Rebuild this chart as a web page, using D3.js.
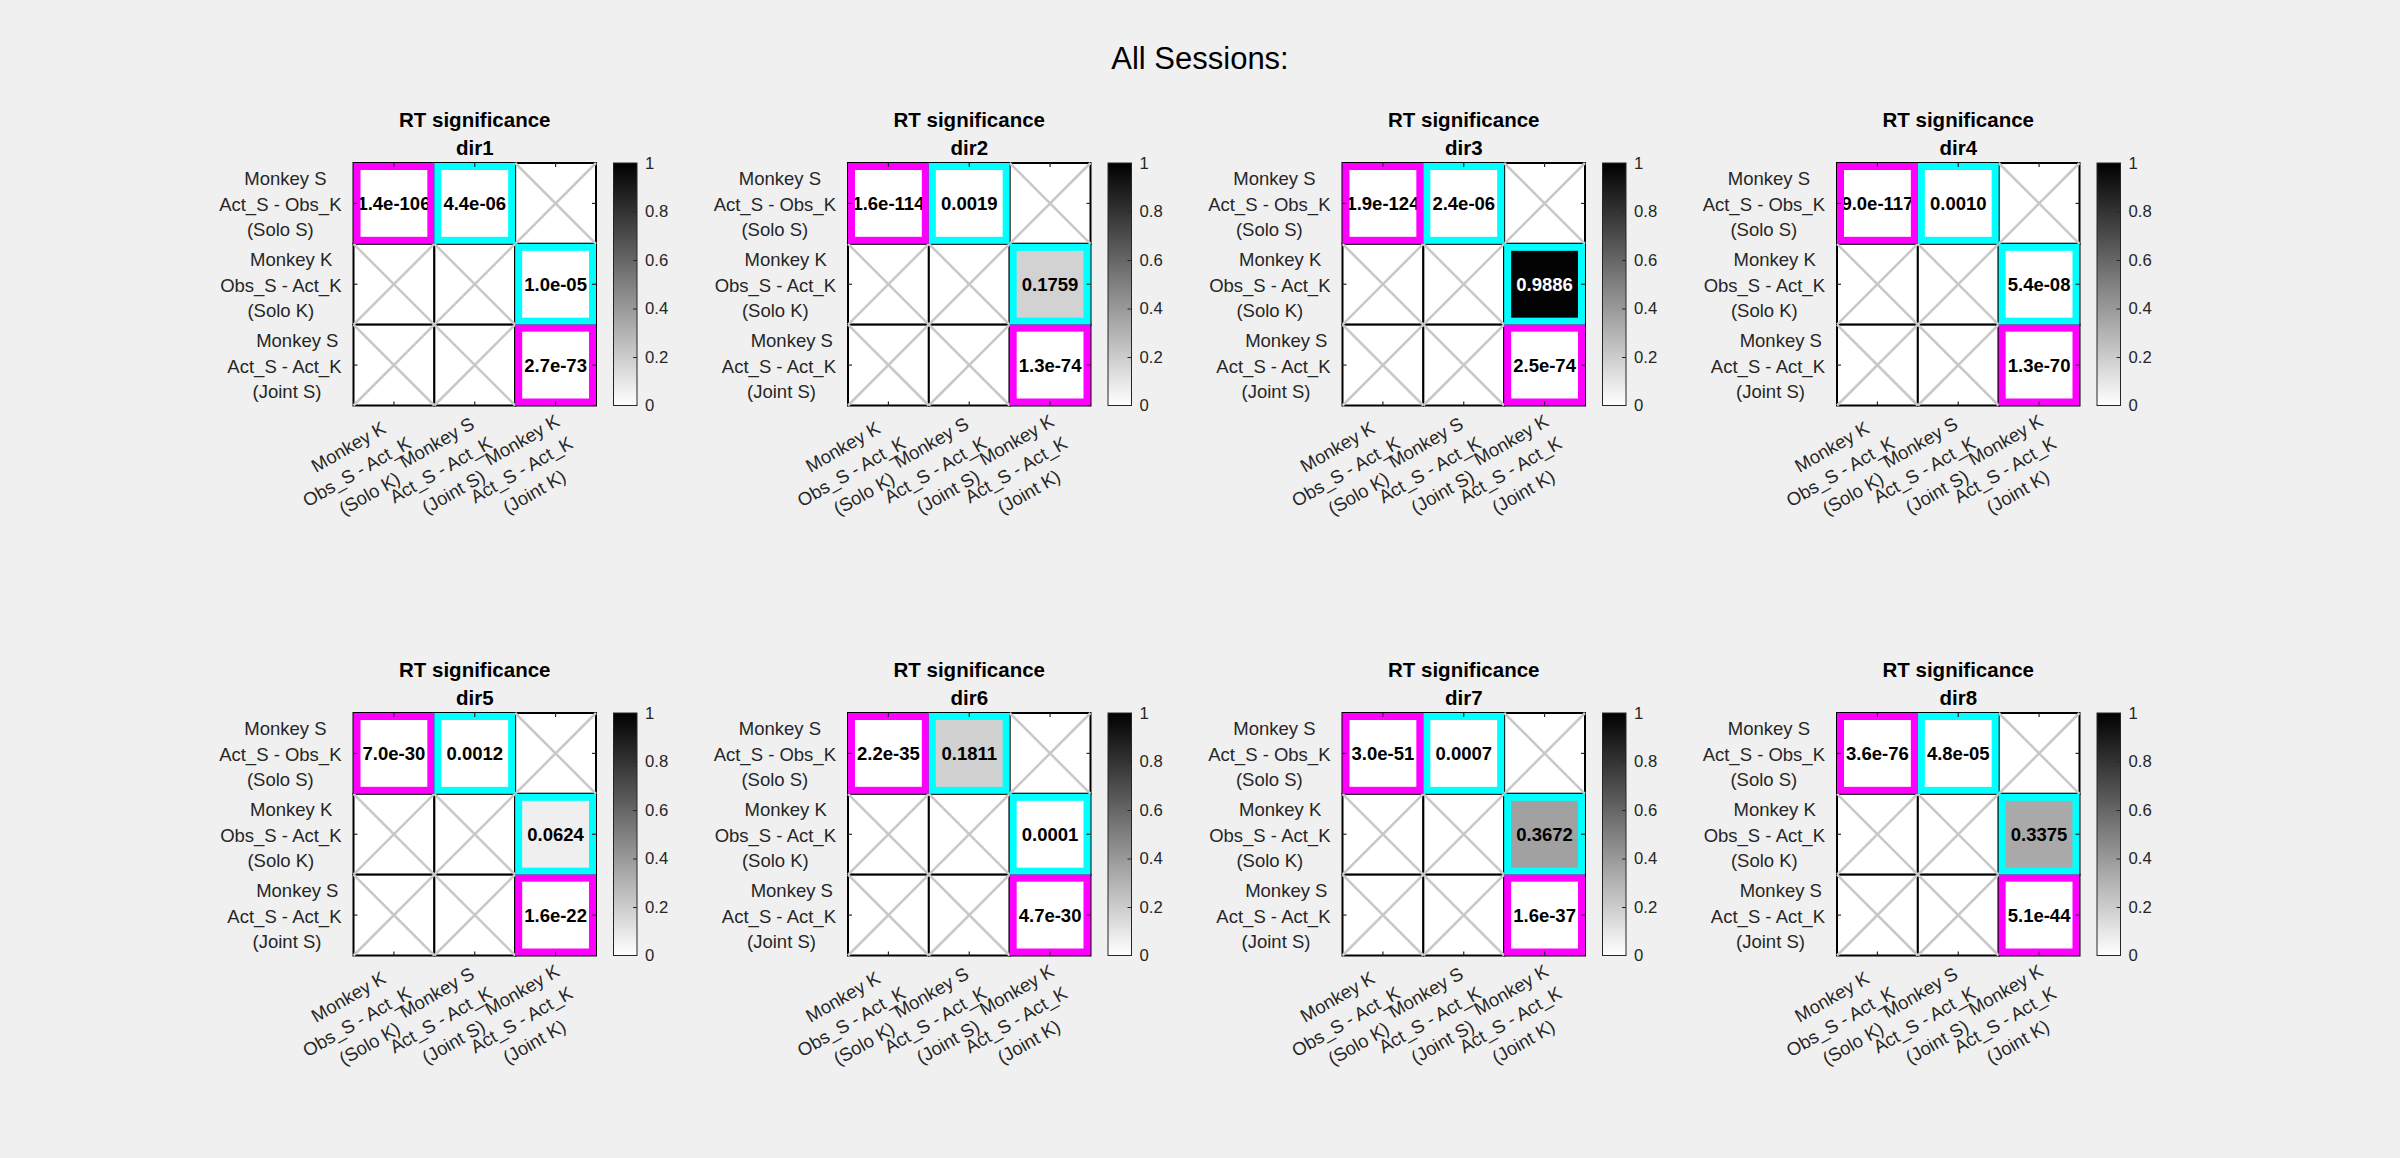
<!DOCTYPE html>
<html>
<head>
<meta charset="utf-8">
<script src="https://cdn.jsdelivr.net/npm/d3@7"></script>
<style>
  html, body { margin: 0; padding: 0; background: #f0f0f0; }
  svg text { font-family: "Liberation Sans", Arial, Helvetica, sans-serif; white-space: pre; }
</style>
</head>
<body>
<svg id="chart" width="2400" height="1158"></svg>
<script>
// ---------------- data ----------------
const figureTitle = "All Sessions:";
const panelTitle = "RT significance";
const directions = ["dir1", "dir2", "dir3", "dir4", "dir5", "dir6", "dir7", "dir8"];

// y tick labels (rows), each a list of lines
const rowLabels = [
  ["  Monkey S", "Act_S - Obs_K", "(Solo S)"],
  ["    Monkey K", "Obs_S - Act_K", "(Solo K)"],
  ["     Monkey S", "Act_S - Act_K", " (Joint S)"]
];
// x tick labels (columns)
const colLabels = [
  ["  Monkey K", "Obs_S - Act_K", "(Solo K)"],
  ["    Monkey S", "Act_S - Act_K", "(Joint S)"],
  ["      Monkey K", "Act_S - Act_K", "(Joint K)"]
];

// p-values per direction
// row 1 / col 1 : Solo S vs Solo K  (magenta)
const pSoloS_SoloK = [1.4e-106, 1.6e-114, 1.9e-124, 9.0e-117, 7.0e-30, 2.2e-35, 3.0e-51, 3.6e-76];
// row 1 / col 2 : Solo S vs Joint S (cyan)
const pSoloS_JointS = [4.4e-06, 0.0019, 2.4e-06, 0.0010, 0.0012, 0.1811, 0.0007, 4.8e-05];
// row 2 / col 3 : Solo K vs Joint K (cyan)
const pSoloK_JointK = [1.0e-05, 0.1759, 0.9886, 5.4e-08, 0.0624, 0.0001, 0.3672, 0.3375];
// row 3 / col 3 : Joint S vs Joint K (magenta)
const pJointS_JointK = [2.7e-73, 1.3e-74, 2.5e-74, 1.3e-70, 1.6e-22, 4.7e-30, 1.6e-37, 5.1e-44];

const colorbarTicks = [0, 0.2, 0.4, 0.6, 0.8, 1];

// ---------------- layout / style ----------------
const cellSlots = [
  { row: 0, col: 0, series: pSoloS_SoloK, edge: "#ff00ff" },
  { row: 0, col: 1, series: pSoloS_JointS, edge: "#00ffff" },
  { row: 1, col: 2, series: pSoloK_JointK, edge: "#00ffff" },
  { row: 2, col: 2, series: pJointS_JointK, edge: "#ff00ff" }
];

const svg = d3.select("#chart");
svg.append("rect").attr("width", 2400).attr("height", 1158).attr("fill", "#f0f0f0");

svg.append("text")
  .attr("x", 1200).attr("y", 69)
  .attr("text-anchor", "middle")
  .attr("font-size", 31)
  .attr("fill", "#000")
  .text(figureTitle);

const axSize = 242.5;
const leftStart = 353.5, colStep = 494.5;
const topStart = 163, rowStep = 550;
const axisColor = "#262626";

const grayScale = d3.scaleLinear().domain([0, 1]).range(["#ffffff", "#000000"]);

// gradient for colorbars
const defs = svg.append("defs");
const grad = defs.append("linearGradient").attr("id", "cbGrad")
  .attr("x1", 0).attr("y1", 1).attr("x2", 0).attr("y2", 0);
d3.range(0, 1.0001, 0.1).forEach(t => {
  grad.append("stop").attr("offset", t).attr("stop-color", grayScale(t));
});

function fmtP(v) {
  if (v < 0.0001) {
    const s = v.toExponential(1); // e.g. 4.4e-6
    return s.replace(/e([+-])(\d)$/, "e$10$2");
  }
  return v.toFixed(4);
}

directions.forEach((dirName, k) => {
  const pc = k % 4, pr = Math.floor(k / 4);
  const left = leftStart + pc * colStep;
  const top = topStart + pr * rowStep;

  const band = d3.scaleBand().domain([0, 1, 2]).range([0, axSize]);
  const bw = band.bandwidth();

  const g = svg.append("g").attr("transform", `translate(${left},${top})`);

  // cells
  const cells = [];
  for (let r = 0; r < 3; r++) for (let c = 0; c < 3; c++) {
    const slot = cellSlots.find(s => s.row === r && s.col === c);
    cells.push({ r, c, slot, v: slot ? slot.series[k] : null });
  }

  g.selectAll("rect.cell").data(cells).join("rect")
    .attr("class", "cell")
    .attr("x", d => band(d.c)).attr("y", d => band(d.r))
    .attr("width", bw).attr("height", bw)
    .attr("fill", d => d.v === null ? "#ffffff" : grayScale(d.v))
    .attr("stroke", "#000").attr("stroke-width", 2);

  // empty cell crosses
  const empty = cells.filter(d => d.v === null);
  g.selectAll("line.x1").data(empty).join("line")
    .attr("x1", d => band(d.c)).attr("y1", d => band(d.r))
    .attr("x2", d => band(d.c) + bw).attr("y2", d => band(d.r) + bw)
    .attr("stroke", "#c8c8c8").attr("stroke-width", 2.5);
  g.selectAll("line.x2").data(empty).join("line")
    .attr("x1", d => band(d.c) + bw).attr("y1", d => band(d.r))
    .attr("x2", d => band(d.c)).attr("y2", d => band(d.r) + bw)
    .attr("stroke", "#c8c8c8").attr("stroke-width", 2.5);

  // value text
  const filled = cells.filter(d => d.v !== null);
  g.selectAll("text.val").data(filled).join("text")
    .attr("class", "val")
    .attr("x", d => band(d.c) + bw / 2).attr("y", d => band(d.r) + bw / 2)
    .attr("text-anchor", "middle").attr("dominant-baseline", "central")
    .attr("font-size", 18.5).attr("font-weight", "bold")
    .attr("fill", d => d.v > 0.5 ? "#fff" : "#000")
    .text(d => fmtP(d.v));

  // highlight borders
  const inset = 3.5;
  g.selectAll("rect.hl").data(filled).join("rect")
    .attr("class", "hl")
    .attr("x", d => band(d.c) + inset).attr("y", d => band(d.r) + inset)
    .attr("width", bw - 2 * inset).attr("height", bw - 2 * inset)
    .attr("fill", "none").attr("stroke", d => d.slot.edge).attr("stroke-width", 7);

  // tick marks (inside)
  const tickAxes = [
    [d3.axisBottom(band), `translate(0,${axSize})`],
    [d3.axisTop(band), `translate(0,0)`],
    [d3.axisLeft(band), `translate(0,0)`],
    [d3.axisRight(band), `translate(${axSize},0)`]
  ];
  tickAxes.forEach(([ax, tr]) => {
    const a = g.append("g").attr("transform", tr)
      .call(ax.tickSizeInner(-4).tickSizeOuter(0).tickFormat(""));
    a.select(".domain").remove();
    a.selectAll("line").attr("stroke", axisColor).attr("stroke-width", 1.2);
  });

  // y tick labels
  rowLabels.forEach((lines, r) => {
    const lg = g.append("g");
    const ts = lg.selectAll("text").data(lines).join("text")
      .attr("text-anchor", "middle")
      .attr("font-size", 18.5).attr("fill", axisColor)
      .attr("y", (d, i) => band(r) + bw / 2 + (i - 1) * 25.5 + 7.5)
      .text(d => d);
    const maxW = d3.max(ts.nodes(), n => n.getComputedTextLength());
    ts.attr("x", -12 - maxW / 2);
  });

  // x tick labels (rotated 30 deg)
  colLabels.forEach((lines, c) => {
    const lg = g.append("g")
      .attr("transform", `translate(${band(c) + bw / 2},${axSize}) rotate(-30)`);
    const ts = lg.selectAll("text").data(lines).join("text")
      .attr("text-anchor", "middle")
      .attr("font-size", 18.5).attr("fill", axisColor)
      .attr("y", (d, i) => 19.5 + i * 25.5)
      .text(d => d);
    const maxW = d3.max(ts.nodes(), n => n.getComputedTextLength());
    ts.attr("x", -4.5 - maxW / 2);
  });

  // titles
  g.append("text").attr("x", axSize / 2).attr("y", -35.7)
    .attr("text-anchor", "middle").attr("font-size", 20.5).attr("font-weight", "bold")
    .attr("fill", "#000").text(panelTitle);
  g.append("text").attr("x", axSize / 2).attr("y", -8)
    .attr("text-anchor", "middle").attr("font-size", 20.5).attr("font-weight", "bold")
    .attr("fill", "#000").text(dirName);

  // colorbar
  const cbW = 23.5;
  const cb = svg.append("g").attr("transform", `translate(${left + 260},${top})`);
  const cbScale = d3.scaleLinear().domain([0, 1]).range([axSize, 0]);
  cb.append("rect").attr("width", cbW).attr("height", axSize)
    .attr("fill", "url(#cbGrad)").attr("stroke", axisColor).attr("stroke-width", 1);
  const cbTickG = cb.append("g").attr("transform", `translate(${cbW},0)`)
    .call(d3.axisLeft(cbScale).tickValues(colorbarTicks.slice(1, -1)).tickSizeInner(4).tickSizeOuter(0).tickFormat(""));
  cbTickG.select(".domain").remove();
  cbTickG.selectAll("line").attr("stroke", axisColor);
  const cbLab = cb.append("g").attr("transform", `translate(${cbW},0)`)
    .call(d3.axisRight(cbScale).tickValues(colorbarTicks).tickSize(0).tickPadding(8).tickFormat(d3.format("~g")));
  cbLab.select(".domain").remove();
  cbLab.selectAll("text")
    .attr("font-size", 16.7).attr("fill", axisColor)
    .attr("font-family", "Liberation Sans, Arial, sans-serif");
});
</script>
</body>
</html>
